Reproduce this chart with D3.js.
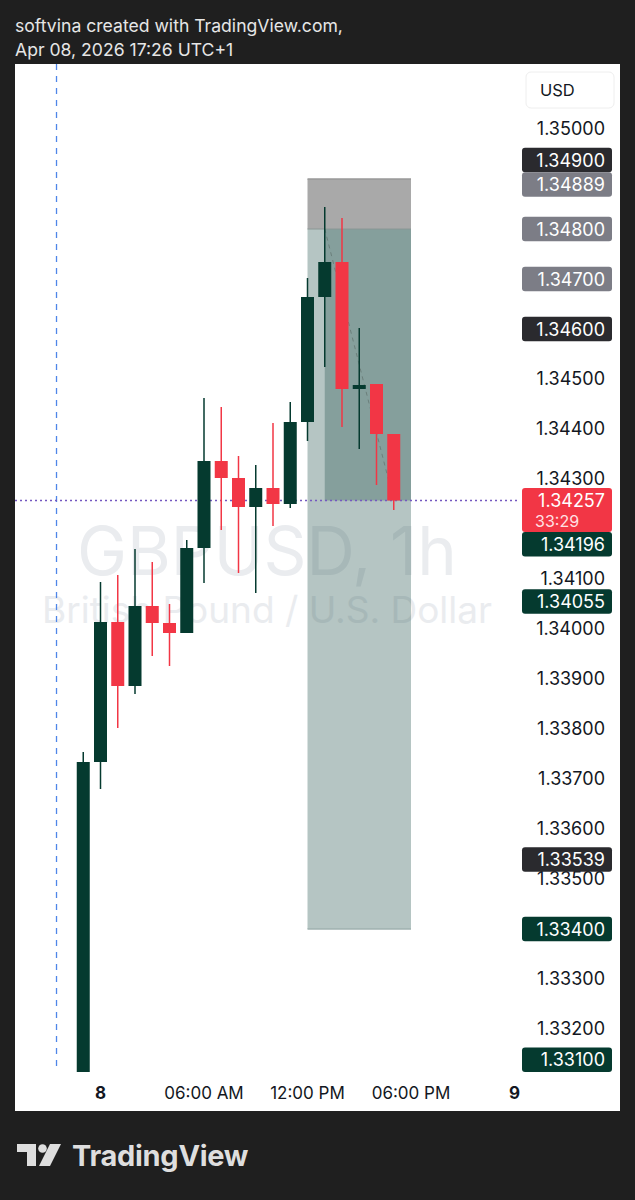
<!DOCTYPE html>
<html><head><meta charset="utf-8">
<script src="https://cdn.jsdelivr.net/npm/d3@7"></script>
<style>
body{margin:0;background:#1f1f1f;}
svg{display:block;font-family:Inter,"Noto Sans",sans-serif;}
</style></head><body>
<script>
// GBPUSD 1h candles, hour 0 = Apr 08 00:00
var hours  = [-1,0,1,2,3,4,5,6,7,8,9,10,11,12,13,14,15,16,17];
var opens  = [1.33100,1.33734,1.34014,1.33886,1.34046,1.34012,1.33992,1.34162,1.34336,1.34302,1.34244,1.34282,1.34250,1.34414,1.34664,1.34734,1.34480,1.34490,1.34390];
var highs  = [1.33754,1.34094,1.34108,1.34160,1.34134,1.34050,1.34178,1.34462,1.34444,1.34346,1.34328,1.34412,1.34454,1.34702,1.34844,1.34822,1.34602,1.34490,1.34390];
var lows   = [1.33060,1.33680,1.33802,1.33870,1.33946,1.33926,1.33992,1.34092,1.34198,1.34112,1.34072,1.34206,1.34242,1.34376,1.34524,1.34404,1.34360,1.34288,1.34238];
var closes = [1.33734,1.34014,1.33886,1.34046,1.34012,1.33992,1.34162,1.34336,1.34302,1.34244,1.34282,1.34250,1.34414,1.34664,1.34734,1.34480,1.34488,1.34390,1.34257];

var priceTicks = d3.range(1.332, 1.3505, 0.001);
var timeTicks  = [0, 6, 12, 18, 24];
var timeLabels = ["8", "06:00 AM", "12:00 PM", "06:00 PM", "9"];

// short position tool
var posStart = 12, posEnd = 18, profitStart = 13;
var entry = 1.348, stop = 1.349, target = 1.334, lastPrice = 1.34257;
var sessionLine = -2.55;

// price scale labels
var labelPrices = [1.34900, 1.34889, 1.34800, 1.34700, 1.34600, 1.34257, 1.34196, 1.34055, 1.33539, 1.33400, 1.33100];
var labelKinds  = ["dark", "gray", "gray", "gray", "dark", "last", "green", "green", "dark", "green", "green"];
var labelPinned = [false, true, false, false, false, true, false, false, false, false, false];

var W = 635, H = 1200;
var panel = {x: 15, y: 64, w: 605, h: 1047};
var plot = {left: 15, right: 520, top: 64, bottom: 1072};

var svg = d3.select("body").append("svg").attr("width", W).attr("height", H);

svg.append("rect").attr("width", W).attr("height", H).attr("fill", "#1f1f1f");
svg.append("text").attr("x", 15).attr("y", 32).attr("fill", "#e6e6e6")
  .style("font-size", "17.6px").text("softvina created with TradingView.com,");
svg.append("text").attr("x", 15).attr("y", 56).attr("fill", "#e6e6e6")
  .style("font-size", "17.6px").text("Apr 08, 2026 17:26 UTC+1");

svg.append("rect").attr("x", panel.x).attr("y", panel.y).attr("width", panel.w).attr("height", panel.h)
  .attr("fill", "#ffffff");

var x = d3.scaleLinear().domain([0, 24]).range([100.5, 514.5]);
var y = d3.scaleLinear().domain([1.35, 1.34]).range([129, 629]);

svg.append("clipPath").attr("id", "plotclip").append("rect")
  .attr("x", plot.left).attr("y", plot.top)
  .attr("width", plot.right - plot.left).attr("height", plot.bottom - plot.top);

var g = svg.append("g").attr("clip-path", "url(#plotclip)");

// watermark
g.append("text").attr("x", 267).attr("y", 575).attr("text-anchor", "middle")
  .attr("fill", "#eaecef").style("font-size", "67px").text("GBPUSD, 1h");
g.append("text").attr("x", 267).attr("y", 623).attr("text-anchor", "middle")
  .attr("fill", "#eaecef").style("font-size", "37px").text("British Pound / U.S. Dollar");

// session break
g.append("line").attr("x1", x(sessionLine)).attr("x2", x(sessionLine))
  .attr("y1", plot.top).attr("y2", plot.bottom)
  .attr("stroke", "#4f86e8").attr("stroke-width", 1.3).attr("stroke-dasharray", "6,6");

// position tool (translucent, like TradingView)
g.append("rect").attr("x", x(posStart)).attr("y", y(stop))
  .attr("width", x(posEnd) - x(posStart)).attr("height", y(entry) - y(stop))
  .attr("fill", "rgb(96,96,96)").attr("fill-opacity", 0.54);
g.append("rect").attr("x", x(posStart)).attr("y", y(entry))
  .attr("width", x(posEnd) - x(posStart)).attr("height", y(target) - y(entry))
  .attr("fill", "rgb(43,89,84)").attr("fill-opacity", 0.35);
g.append("rect").attr("x", x(profitStart)).attr("y", y(entry))
  .attr("width", x(posEnd) - x(profitStart)).attr("height", y(lastPrice) - y(entry))
  .attr("fill", "rgb(43,89,84)").attr("fill-opacity", 0.35);
g.append("line").attr("x1", x(posStart)).attr("x2", x(posEnd)).attr("y1", y(stop)).attr("y2", y(stop))
  .attr("stroke", "#999999").attr("stroke-width", 1.5);
g.append("line").attr("x1", x(posStart)).attr("x2", x(posEnd)).attr("y1", y(entry)).attr("y2", y(entry))
  .attr("stroke", "#8a9694").attr("stroke-width", 1);
g.append("line").attr("x1", x(posStart)).attr("x2", x(posEnd)).attr("y1", y(target)).attr("y2", y(target))
  .attr("stroke", "#9fb1af").attr("stroke-width", 1.5);
g.append("line").attr("x1", x(profitStart)).attr("x2", x(posEnd - 1)).attr("y1", y(entry)).attr("y2", y(lastPrice))
  .attr("stroke", "#6b7f7b").attr("stroke-width", 1).attr("stroke-dasharray", "4,4");

// last price line
g.append("line").attr("x1", plot.left).attr("x2", plot.right).attr("y1", y(lastPrice)).attr("y2", y(lastPrice))
  .attr("stroke", "#7458c0").attr("stroke-width", 1.4).attr("stroke-dasharray", "2,3");

// candles
var data = hours.map(function(h, i) {
  return {h: h, o: opens[i], hi: highs[i], lo: lows[i], c: closes[i]};
});
var up = "#053a2f", down = "#f23645";
var cw = 13;

var candle = g.selectAll(".candle").data(data).enter().append("g").attr("class", "candle");
candle.append("line")
  .attr("x1", function(d) { return x(d.h); })
  .attr("x2", function(d) { return x(d.h); })
  .attr("y1", function(d) { return y(d.hi); })
  .attr("y2", function(d) { return y(d.lo); })
  .attr("stroke", function(d) { return d.c >= d.o ? up : down; })
  .attr("stroke-width", 1.5);
candle.append("rect")
  .attr("x", function(d) { return x(d.h) - cw / 2; })
  .attr("y", function(d) { return y(Math.max(d.o, d.c)); })
  .attr("width", cw)
  .attr("height", function(d) { return Math.max(2.5, Math.abs(y(d.o) - y(d.c))); })
  .attr("fill", function(d) { return d.c >= d.o ? up : down; });

// price labels with simple overlap handling
var colors = {dark: "#2a2a2e", gray: "#7c7d86", last: "#f23645", green: "#053a2f"};
var labels = labelPrices.map(function(p, i) {
  var hgt = labelKinds[i] === "last" ? 44 : 24.5;
  var top = labelKinds[i] === "last" ? y(p) - 12.5 : y(p) - hgt / 2;
  if (top + hgt > plot.bottom) top = plot.bottom - hgt;
  return {p: p, kind: labelKinds[i], pinned: labelPinned[i], h: hgt, top: top};
});
labels.sort(function(a, b) { return a.top - b.top; });
for (var i = 1; i < labels.length; i++) {
  var a = labels[i - 1], b = labels[i];
  if (a.top + a.h > b.top) {
    if (b.pinned) a.top = b.top - a.h;
    else b.top = a.top + a.h;
  }
}

// price axis ticks, hidden where a label box sits on them
var visibleTicks = priceTicks.filter(function(t) {
  var ty = y(t);
  return !labels.some(function(l) { return ty + 5 > l.top && ty - 5 < l.top + l.h; });
});
svg.append("g").selectAll("text").data(visibleTicks).enter().append("text")
  .attr("x", 605).attr("y", function(d) { return y(d); })
  .attr("dy", "0.36em").attr("text-anchor", "end")
  .attr("fill", "#131722").style("font-size", "18px")
  .text(function(d) { return d.toFixed(5); });

var lab = svg.append("g").selectAll("g").data(labels).enter().append("g");
lab.append("rect").attr("x", 522).attr("y", function(d) { return d.top; })
  .attr("width", 90).attr("height", function(d) { return d.h; })
  .attr("rx", 3).attr("fill", function(d) { return colors[d.kind]; });
lab.append("text").attr("x", 605).attr("y", function(d) { return d.top + 12.5; })
  .attr("dy", "0.36em").attr("text-anchor", "end").attr("fill", "#ffffff")
  .style("font-size", "18px").text(function(d) { return d.p.toFixed(5); });
lab.filter(function(d) { return d.kind === "last"; }).append("text")
  .attr("x", 535).attr("y", function(d) { return d.top + 33; })
  .attr("dy", "0.36em").attr("fill", "#ffe1e4")
  .style("font-size", "16px").text("33:29");

// currency button
svg.append("rect").attr("x", 526).attr("y", 72).attr("width", 88).attr("height", 36).attr("rx", 5)
  .attr("fill", "#ffffff").attr("stroke", "#eeeeee");
svg.append("text").attr("x", 540).attr("y", 90).attr("dy", "0.36em")
  .attr("fill", "#131722").style("font-size", "16.5px").text("USD");

// time axis
svg.append("g").selectAll("text").data(timeTicks).enter().append("text")
  .attr("x", function(d) { return x(d); }).attr("y", 1093).attr("dy", "0.36em")
  .attr("text-anchor", "middle").attr("fill", "#131722").style("font-size", "17px")
  .style("font-weight", function(d, i) { return i === 0 || i === 4 ? 700 : 400; })
  .text(function(d, i) { return timeLabels[i]; });

// TradingView logo
var logo = svg.append("g").attr("fill", "#dedede");
logo.append("path").attr("d", "M17,1144 H36 V1166 H27 V1152 H17 Z");
logo.append("circle").attr("cx", 42.5).attr("cy", 1148.5).attr("r", 4.3);
logo.append("path").attr("d", "M50,1144 H61 L50,1166 H39 Z");
logo.append("text").attr("x", 72).attr("y", 1166).attr("fill", "#dedede")
  .style("font-size", "29px").style("font-weight", 700).style("letter-spacing", "-0.3px")
  .text("TradingView");
</script>
</body></html>
